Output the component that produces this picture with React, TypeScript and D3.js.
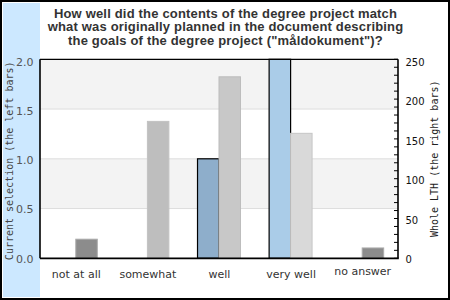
import React from "react";
import * as d3 from "d3";

const categories = ["not at all", "somewhat", "well", "very well", "no answer"];
const currentSelection = [0, 0, 1, 2, 0];
const wholeLTH = [24, 172, 228, 157, 13];
const leftTicks = [0, 0.5, 1.0, 1.5, 2.0];
const rightTicks = [0, 50, 100, 150, 200, 250];
const titleLines = [
  "How well did the contents of the degree project match",
  "what was originally planned in the document describing",
  'the goals of the degree project ("måldokument")?',
];
const leftFill = ["#8eaecb", "#8eaecb", "#8eaecb", "#aacce8", "#8eaecb"];
const rightFill = ["#8c8c8c", "#bebebe", "#c8c8c8", "#d9d9d9", "#8c8c8c"];
const rightStroke = ["#aaaaaa", "#c2c2c2", "#bcbcbc", "#c6c6c6", "#aaaaaa"];

const W = 450;
const H = 300;
const plot = { left: 40, right: 398, top: 59.3, bottom: 258.3 };

export default function App() {
  const x = d3
    .scaleBand<string>()
    .domain(categories)
    .range([plot.left, plot.right])
    .paddingInner(0.4)
    .paddingOuter(0.2);
  const sub = d3.scaleBand<string>().domain(["l", "r"]).range([0, x.bandwidth()]);
  const yL = d3.scaleLinear().domain([0, 2]).range([plot.bottom, plot.top]);
  const yR = d3.scaleLinear().domain([0, 250]).range([plot.bottom, plot.top]);
  // tick labels sit on a slightly compressed range, as in the reference
  const yLLabel = d3.scaleLinear().domain([0, 2]).range([258.7, 62]);
  const yRLabel = d3.scaleLinear().domain([0, 250]).range([259.3, 62.3]);
  const bands = d3.range(0, 2, 0.5);
  const minor = d3.range(0, 251, 10);

  return (
    <svg
      width={W}
      height={H}
      style={{ position: "absolute", left: 0, top: 0 }}
      xmlns="http://www.w3.org/2000/svg"
    >
      <rect x={0} y={0} width={W} height={H} fill="#ffffff" />
      <rect x={1} y={1} width={W - 2} height={H - 2} fill="none" stroke="#000" strokeWidth={2} />
      <rect x={3} y={3} width={37} height={294} fill="#cce8ff" />

      {titleLines.map((t, i) => (
        <text
          key={i}
          x={225.5}
          y={17.5 + i * 13.7}
          textAnchor="middle"
          fontFamily="'Liberation Sans', Arial, sans-serif"
          fontWeight="bold"
          fontSize={13}
          letterSpacing={0.18}
          fill="#333333"
        >
          {t}
        </text>
      ))}

      {/* bands */}
      {bands.map((b, i) => (
        <rect
          key={i}
          x={plot.left}
          y={yL(b + 0.5)}
          width={plot.right - plot.left}
          height={yL(b) - yL(b + 0.5)}
          fill={i % 2 === 1 ? "#f3f3f3" : "#ffffff"}
        />
      ))}
      {[0.5, 1.0, 1.5].map((g) => (
        <line
          key={g}
          x1={plot.left}
          x2={plot.right}
          y1={yL(g)}
          y2={yL(g)}
          stroke="#dddddd"
          strokeWidth={1}
        />
      ))}

      {/* bars */}
      {categories.map((c, i) => (
        <g key={c}>
          {currentSelection[i] > 0 && (
            <rect
              x={(x(c) as number) + (sub("l") as number)}
              y={yL(currentSelection[i])}
              width={sub.bandwidth()}
              height={yL(0) - yL(currentSelection[i])}
              fill={leftFill[i]}
              stroke="#000"
              strokeWidth={1.2}
            />
          )}
          <rect
            x={(x(c) as number) + (sub("r") as number)}
            y={yR(wholeLTH[i])}
            width={sub.bandwidth()}
            height={yR(0) - yR(wholeLTH[i])}
            fill={rightFill[i]}
            stroke={rightStroke[i]}
            strokeWidth={1}
          />
        </g>
      ))}

      {/* frame */}
      <line x1={plot.left} x2={plot.right} y1={plot.top} y2={plot.top} stroke="#000" strokeWidth={1.2} />
      <line x1={plot.left} x2={plot.left} y1={plot.top} y2={plot.bottom} stroke="#000" strokeWidth={1.6} />
      <line x1={plot.right} x2={plot.right} y1={plot.top} y2={plot.bottom} stroke="#000" strokeWidth={1.6} />
      <line x1={plot.left} x2={plot.right + 0.8} y1={plot.bottom} y2={plot.bottom} stroke="#000" strokeWidth={1.8} />

      {/* right minor ticks */}
      {minor.map((m) => (
        <line key={m} x1={plot.right - 4} x2={plot.right} y1={yR(m)} y2={yR(m)} stroke="#000" strokeWidth={1} />
      ))}

      {/* left tick labels */}
      {leftTicks.map((t) => (
        <text
          key={t}
          x={33.5}
          y={yLLabel(t)}
          dy="0.36em"
          textAnchor="end"
          fontFamily="'DejaVu Sans', Verdana, sans-serif"
          fontSize={11}
          fill="#555555"
        >
          {d3.format(".1f")(t)}
        </text>
      ))}

      {/* right tick labels */}
      {rightTicks.map((t) => (
        <text
          key={t}
          x={405.5}
          y={yRLabel(t)}
          dy="0.36em"
          textAnchor="start"
          fontFamily="'DejaVu Sans', Verdana, sans-serif"
          fontSize={10}
          fill="#111111"
        >
          {t}
        </text>
      ))}

      {/* category labels */}
      {categories.map((c, i) => (
        <text
          key={c}
          x={(x(c) as number) + x.bandwidth() / 2 + 0.5}
          y={i === 4 ? 275 : 278}
          textAnchor="middle"
          fontFamily="'DejaVu Sans', Verdana, sans-serif"
          fontSize={11}
          fill="#333333"
        >
          {c}
        </text>
      ))}

      {/* axis titles */}
      <text
        transform={`translate(12.5, ${(plot.top + plot.bottom) / 2 + 2}) rotate(-90)`}
        textAnchor="middle"
        fontFamily="'DejaVu Sans Mono', monospace"
        fontSize={10}
        fill="#444444"
      >
        Current selection (the left bars)
      </text>
      <text
        transform={`translate(438, ${(plot.top + plot.bottom) / 2}) rotate(-90)`}
        textAnchor="middle"
        fontFamily="'DejaVu Sans Mono', monospace"
        fontSize={10}
        fill="#222222"
      >
        Whole LTH (the right bars)
      </text>
    </svg>
  );
}
